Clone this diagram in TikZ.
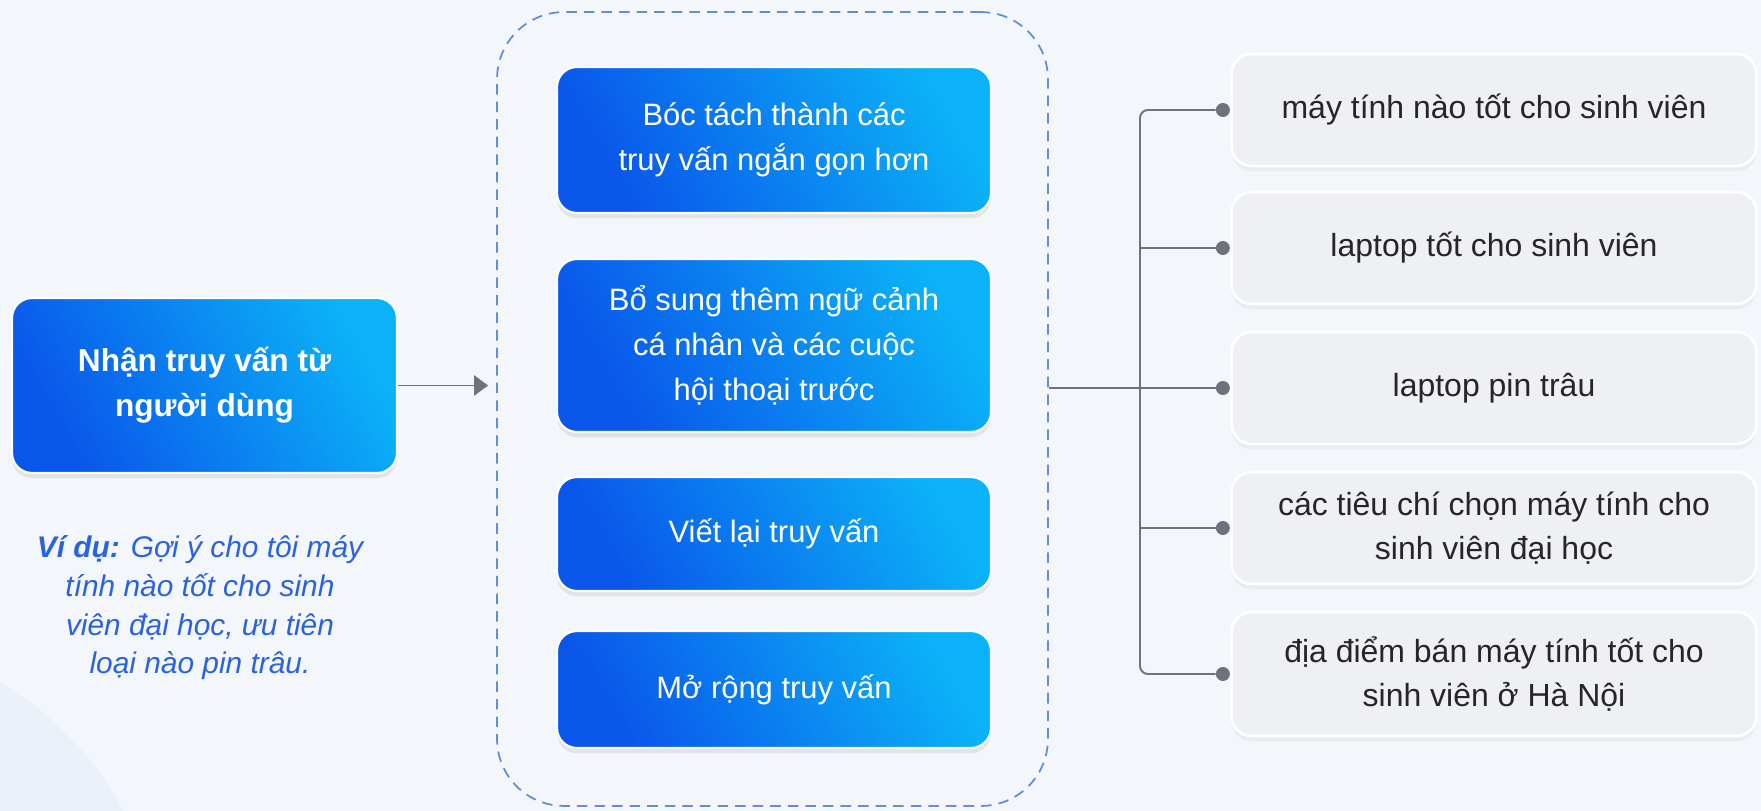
\documentclass[tikz,border=0pt]{standalone}
\usepackage{fontspec}
\setmainfont{Liberation Sans}
\usetikzlibrary{arrows.meta,positioning,shadows}

\definecolor{nen}{HTML}{F3F6FA}
\definecolor{nendam}{HTML}{E7EEF8}
\definecolor{xanhdam}{HTML}{0A55EA}
\definecolor{xanhnhat}{HTML}{0BB2F7}
\definecolor{vien}{HTML}{5C90D8}
\definecolor{chuxanh}{HTML}{2A62DF}
\definecolor{xam}{HTML}{EEF0F3}
\definecolor{duong}{HTML}{6E727D}
\definecolor{chu}{HTML}{262626}

\tikzset{
  hopxanh/.style={rectangle, rounded corners=0.4cm, draw=white, line width=1.2pt,
    left color=xanhdam, right color=xanhnhat, shading angle=120,
    drop shadow={shadow xshift=0pt, shadow yshift=-3pt, opacity=0.15},
    text=white, align=center, minimum width=8.68cm,
    font=\fontsize{17.6}{25.5}\selectfont},
  hopxam/.style={rectangle, rounded corners=0.4cm, draw=white, line width=1.5pt, fill=xam,
    drop shadow={shadow xshift=0pt, shadow yshift=-3pt, opacity=0.08},
    text=chu, align=center, minimum width=10.5cm, minimum height=2.24cm,
    font=\fontsize{18.2}{25}\selectfont},
  cham/.style={circle, fill=duong, inner sep=0pt, minimum size=0.28cm},
  noi/.style={draw=duong, line width=1.1pt}
}

\begin{document}
\begin{tikzpicture}[x=0.02cm, y=-0.02cm]
 % nen
 \fill[nen] (0,0) rectangle (1761,811);
 \useasboundingbox (0,0) rectangle (1761,811);
 \begin{scope}
  \clip (0,0) rectangle (1761,811);
  \fill[nendam, opacity=0.6] (-160,960) circle (6.4cm);
 \end{scope}

 % truy van dau vao
 \node[hopxanh, minimum width=7.7cm, minimum height=3.5cm,
   font=\bfseries\fontsize{18}{25.5}\selectfont] (nhan) at (204.5,385.5) {Nhận truy vấn từ\\người dùng};
 \node[text=chuxanh, align=center, font=\itshape\fontsize{17}{22}\selectfont] (vidu) at (200,608)
   {\textbf{Ví dụ:} Gợi ý cho tôi máy\\tính nào tốt cho sinh\\viên đại học, ưu tiên\\loại nào pin trâu.};

 % khung cac buoc xu ly
 \node[draw=vien, dashed, dash pattern=on 6pt off 4pt, line width=1pt, rounded corners=1.34cm,
   minimum width=11.02cm, minimum height=15.88cm] (khung) at (772.5,409) {};
 \node[hopxanh, minimum height=2.92cm] (tach) at (774,140) {Bóc tách thành các\\truy vấn ngắn gọn hơn};
 \node[hopxanh, minimum height=3.46cm] (bosung) at (774,345.5) {Bổ sung thêm ngữ cảnh\\cá nhân và các cuộc\\hội thoại trước};
 \node[hopxanh, minimum height=2.28cm] (vietlai) at (774,534) {Viết lại truy vấn};
 \node[hopxanh, minimum height=2.34cm] (morong) at (774,689.5) {Mở rộng truy vấn};

 % cac truy van con
 \node[hopxam] (r1) at (1494,110) {máy tính nào tốt cho sinh viên};
 \node[hopxam] (r2) at (1494,248) {laptop tốt cho sinh viên};
 \node[hopxam] (r3) at (1494,388) {laptop pin trâu};
 \node[hopxam] (r4) at (1494,528) {các tiêu chí chọn máy tính cho\\sinh viên đại học};
 \node[hopxam, minimum height=2.48cm] (r5) at (1494,674) {địa điểm bán máy tính tốt cho\\sinh viên ở Hà Nội};
 \node[cham, left=0pt of r1] (d1) {};
 \node[cham, left=0pt of r2] (d2) {};
 \node[cham, left=0pt of r3] (d3) {};
 \node[cham, left=0pt of r4] (d4) {};
 \node[cham, left=0pt of r5] (d5) {};
 \coordinate (tr) at (1140,0);

 % duong noi
 \draw[noi, -{Triangle[length=0.28cm, width=0.4cm]}, shorten >=0.16cm] (nhan.east) -- (nhan.east -| khung.west);
 \draw[noi, rounded corners=0.16cm] (d1) -- (d1 -| tr) -- (d5 -| tr) -- (d5);
 \draw[noi] (tr |- d2) -- (d2);
 \draw[noi] (khung.east |- d3) -- (d3);
 \draw[noi] (tr |- d4) -- (d4);
\end{tikzpicture}
\end{document}
